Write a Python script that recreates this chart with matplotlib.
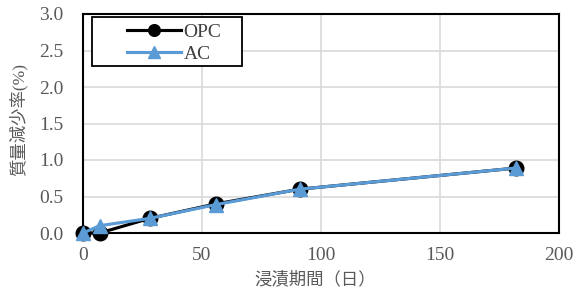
import matplotlib
matplotlib.use('Agg')
import matplotlib.pyplot as plt
from matplotlib.patches import Rectangle

days = [0, 7, 28, 56, 91, 182]
opc = [0.0, 0.0, 0.2, 0.4, 0.6, 0.89]
ac = [0.0, 0.1, 0.2, 0.39, 0.6, 0.89]

plt.rcParams['font.family'] = ['Liberation Serif', 'Noto Sans CJK JP']
grey = '#595959'
W, H = 574, 291

fig = plt.figure(figsize=(W / 100, H / 100), dpi=100)
ax = fig.add_axes([83/W, 1-233/H, (559-83)/W, (233-14)/H])

ax.plot(days, opc, color='black', lw=2.25, marker='o', ms=10.5, label='OPC', clip_on=False, zorder=3)
ax.plot(days, ac, color='#5b9bd5', lw=2.25, marker='^', ms=10.5, label='AC', clip_on=False, zorder=4)

ax.set_xlim(0, 200)
ax.set_ylim(0, 3.0)
ax.set_xticks([0, 50, 100, 150, 200])
ax.set_yticks([0, 0.5, 1.0, 1.5, 2.0, 2.5, 3.0])
ax.set_yticklabels(['0.0', '0.5', '1.0', '1.5', '2.0', '2.5', '3.0'])
ax.grid(True, color='#d9d9d9', lw=1.2)
ax.set_axisbelow(True)
for s in ax.spines.values():
    s.set_color('black')
    s.set_linewidth(1.5)
ax.tick_params(length=0, labelsize=14, labelcolor=grey)
ax.tick_params(axis='y', pad=14)
ax.tick_params(axis='x', pad=10)

ax.set_xlabel('浸漬期間（日）', fontsize=12.5, color=grey, labelpad=0)
ax.xaxis.set_label_coords((315-83)/(559-83), -0.175)
ax.set_ylabel('質量減少率(%)', fontsize=12.5, color=grey)
ax.yaxis.set_label_coords((28-83)/(559-83), 0.52)

leg = fig.legend(*ax.get_legend_handles_labels(), loc='upper left',
                 bbox_to_anchor=(127/W, 1-23/H), fontsize=14, frameon=False,
                 handlelength=2.8, handletextpad=0.1, borderpad=0,
                 labelspacing=0.25, borderaxespad=0, markerscale=0.8)
for t in leg.get_texts():
    t.set_color('#404040')
fig.add_artist(Rectangle((92/W, 1-66/H), (242-92)/W, (66-17)/H, transform=fig.transFigure,
                         fill=True, facecolor='white', edgecolor='black', lw=1.3, zorder=4))
leg.set_zorder(5)

fig.savefig('out.png', dpi=100)
